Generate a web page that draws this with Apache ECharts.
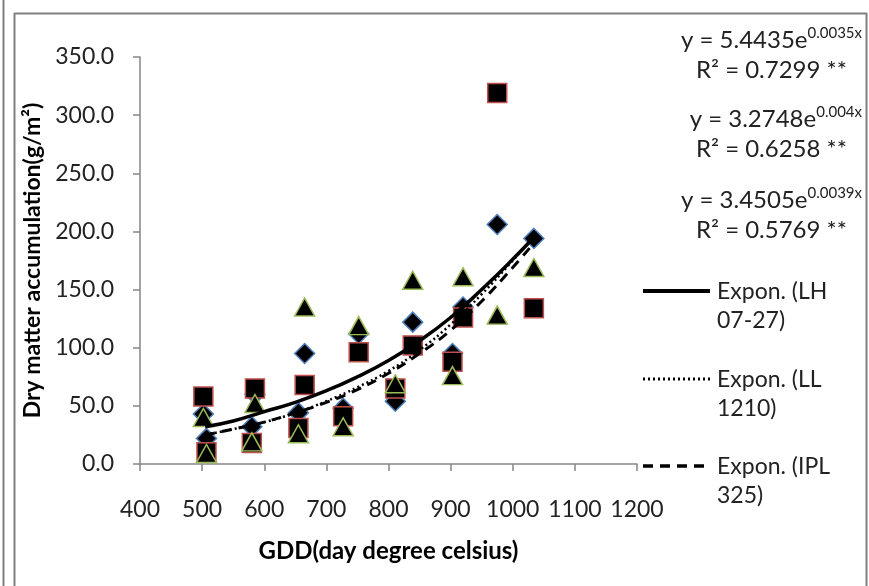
<!DOCTYPE html>
<html>
<head>
<meta charset="utf-8">
<script src="https://cdn.jsdelivr.net/npm/echarts@6/dist/echarts.min.js"></script>
<style>
  html, body { margin: 0; padding: 0; background: #fff; }
  #chart { width: 869px; height: 586px; }
</style>
</head>
<body>
<div id="chart"></div>
<script>
// GDD of each sampling (two sets of sampling dates)
const gdd = [502, 580, 655, 727, 811, 903, 975, 507, 585, 665, 752, 839, 920, 1034]
// dry matter accumulation, g/m2
const lh0727 = [43, 32, 44, 48, 54, 95, 206, 22, 60, 95, 112, 122, 135, 194]
const ll1210 = [58, 18, 31, 41, 65, 88, 319, 10, 65, 68, 96, 102, 126, 134]
const ipl325 = [40, 19, 26, 32, 69, 76, 128, 9, 52, 135, 119, 158, 161, 169]

// trend lines
const trendX = [505, 550, 600, 650, 700, 750, 800, 850, 900, 950, 1000, 1034]
const trendLH = [32, 37, 45, 53, 63, 75, 89, 106, 126, 150, 176, 195]
const trendLL = [25, 30, 36, 44, 54, 66, 80, 98, 120, 146, 175, 196]
const trendIPL = [25, 30, 36, 44, 53, 64, 78, 95, 115, 140, 169, 190]

const legendNames = [['Expon. (LH', '07-27)'], ['Expon. (LL', '1210)'], ['Expon. (IPL', '325)']]
const equations = [
  ['5.4435', '0.0035x', '0.7299'],
  ['3.2748', '0.004x', '0.6258'],
  ['3.4505', '0.0039x', '0.5769']
]

const font = 'Lato, "Open Sans", sans-serif'
const axisGray = '#868686'
const textColor = '#222'
const lineTypes = ['solid', [2, 3], [10, 7]]
const lineWidths = [3.5, 2.5, 3]

function pairs(xs, ys) {
  return xs.map(function (x, i) { return [x, ys[i]] })
}

function scatter(name, symbol, size, border, ys) {
  return {
    name: name,
    type: 'scatter',
    symbol: symbol,
    symbolSize: size,
    itemStyle: { color: '#000', opacity: 1, borderColor: border, borderWidth: 1.5 },
    data: pairs(gdd, ys)
  }
}

function trend(i, ys) {
  return {
    name: legendNames[i].join(' '),
    type: 'line',
    smooth: true,
    showSymbol: false,
    symbol: 'none',
    lineStyle: { color: '#000', width: lineWidths[i], type: lineTypes[i] },
    data: pairs(trendX, ys)
  }
}

const extra = []

// equation texts at the top right
const eqTops = [26, 105, 186]
equations.forEach(function (eq, i) {
  extra.push({
    type: 'text',
    right: 7,
    top: eqTops[i],
    style: {
      text: '{n|y = ' + eq[0] + 'e}{s|' + eq[1] + '}',
      rich: {
        n: { fontFamily: font, fontSize: 24, fill: textColor, lineHeight: 29 },
        s: { fontFamily: font, fontSize: 15, fill: textColor, verticalAlign: 'top', lineHeight: 29 }
      }
    }
  })
  extra.push({
    type: 'text',
    right: 22,
    top: eqTops[i] + 32,
    style: {
      text: 'R\u00b2 = ' + eq[2] + ' **',
      fontFamily: font, fontSize: 24, fill: textColor
    }
  })
})

// legend of the trend lines
const legendY = [291, 379, 466]
legendNames.forEach(function (nm, i) {
  extra.push({
    type: 'line',
    shape: { x1: 643, y1: legendY[i], x2: 710, y2: legendY[i] },
    style: { stroke: '#000', lineWidth: lineWidths[i] + 0.5, lineDash: lineTypes[i] === 'solid' ? null : lineTypes[i] }
  })
  extra.push({
    type: 'text',
    x: 717,
    y: legendY[i] - 14,
    style: { text: nm.join('\n'), fontFamily: font, fontSize: 23, lineHeight: 29, fill: textColor }
  })
})

// frame lines
const frame = [
  [3.5, 0, 3.5, 586], [14.5, 13, 14.5, 586], [14, 13.5, 867, 13.5], [866.5, 13, 866.5, 586]
]
frame.forEach(function (f) {
  extra.push({ type: 'line', shape: { x1: f[0], y1: f[1], x2: f[2], y2: f[3] }, style: { stroke: '#808080', lineWidth: 2 } })
})

const chart = echarts.init(document.getElementById('chart'))
chart.setOption({
  animation: false,
  backgroundColor: '#fff',
  textStyle: { fontFamily: font },
  grid: { left: 140, right: 232, top: 57, bottom: 122 },
  xAxis: {
    type: 'value',
    min: 400,
    max: 1200,
    interval: 100,
    name: 'GDD(day degree celsius)',
    nameLocation: 'middle',
    nameGap: 75,
    nameTextStyle: { fontSize: 24, fontWeight: 'bold', color: '#000' },
    axisLine: { lineStyle: { color: axisGray, width: 1.5 } },
    axisTick: { length: 7, lineStyle: { color: axisGray, width: 1.5 } },
    axisLabel: {
      fontSize: 23, color: textColor, margin: 34,
      formatter: function (v) { return String(v) }
    },
    splitLine: { show: false }
  },
  yAxis: {
    type: 'value',
    min: 0,
    max: 350,
    interval: 50,
    name: 'Dry matter accumulation(g/m\u00b2)',
    nameLocation: 'middle',
    nameGap: 93,
    nameTextStyle: { fontSize: 23, fontWeight: 'bold', color: '#000' },
    axisLine: { show: true, lineStyle: { color: axisGray, width: 1.5 } },
    axisTick: { show: true, length: 7, lineStyle: { color: axisGray, width: 1.5 } },
    axisLabel: {
      fontSize: 23, color: textColor, margin: 26,
      formatter: function (v) { return v.toFixed(1) }
    },
    splitLine: { show: false }
  },
  series: [
    scatter('LH 07-27', 'diamond', 20, '#4f81bd', lh0727),
    scatter('LL 1210', 'rect', 19, '#c0504d', ll1210),
    scatter('IPL 325', 'triangle', [20, 18], '#9bbb59', ipl325),
    trend(0, trendLH),
    trend(1, trendLL),
    trend(2, trendIPL)
  ],
  graphic: extra
})
</script>
</body>
</html>
